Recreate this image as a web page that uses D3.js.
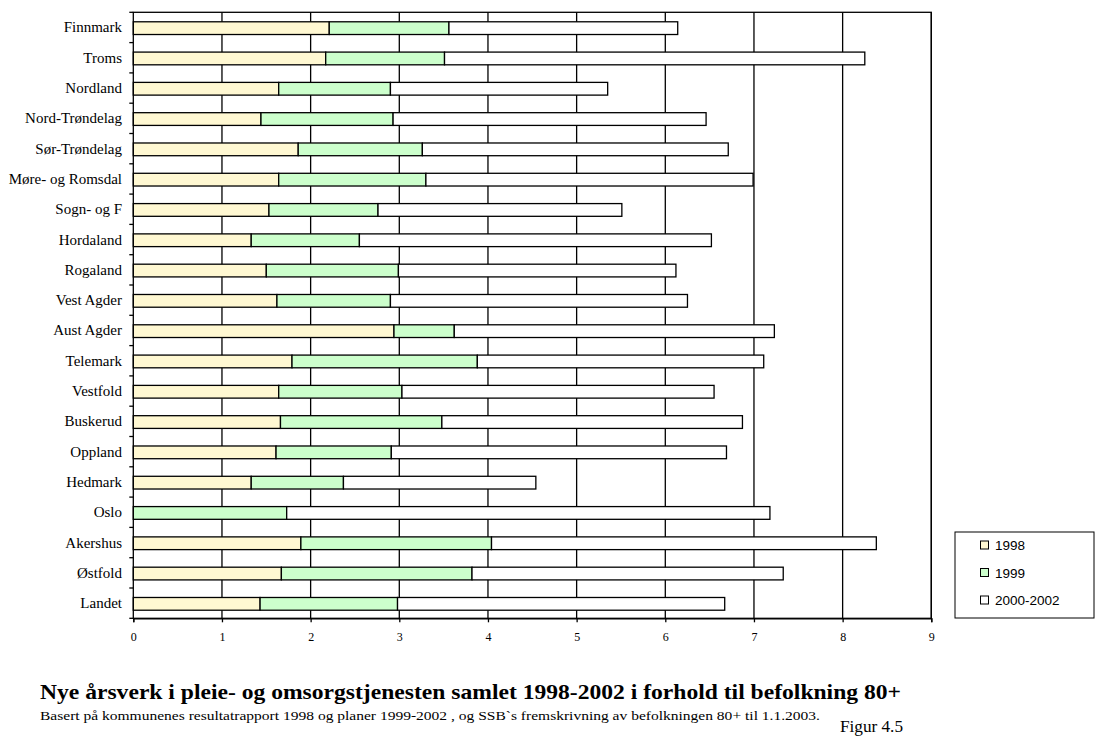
<!DOCTYPE html>
<html><head><meta charset="utf-8">
<script src="https://cdn.jsdelivr.net/npm/d3@7"></script>
<style>body{margin:0;background:#fff}svg{display:block}</style>
</head><body>
<svg id="c" width="1101" height="747"></svg>
<script>
const categories = ["Finnmark","Troms","Nordland","Nord-Trøndelag","Sør-Trøndelag","Møre- og Romsdal","Sogn- og F","Hordaland","Rogaland","Vest Agder","Aust Agder","Telemark","Vestfold","Buskerud","Oppland","Hedmark","Oslo","Akershus","Østfold","Landet"];
const seriesNames = ["1998","1999","2000-2002"];
const v1998 = [2.21,2.17,1.64,1.44,1.86,1.64,1.53,1.33,1.50,1.62,2.94,1.79,1.64,1.66,1.61,1.33,0,1.89,1.67,1.43];
const v1999 = [1.35,1.34,1.26,1.49,1.40,1.66,1.23,1.22,1.49,1.28,0.68,2.09,1.39,1.82,1.30,1.04,1.73,2.15,2.15,1.55];
const v2000 = [2.58,4.74,2.45,3.53,3.45,3.69,2.75,3.97,3.13,3.35,3.61,3.23,3.52,3.39,3.78,2.17,5.45,4.34,3.51,3.69];
const xTicks = [0,1,2,3,4,5,6,7,8,9];
const colors = ["#FFF8D2","#CCFFCC","#FFFFFF"];
const title = "Nye årsverk i pleie- og omsorgstjenesten samlet 1998-2002 i forhold til befolkning 80+";
const subtitle = "Basert på kommunenes resultatrapport 1998 og planer 1999-2002 , og SSB`s fremskrivning av befolkningen 80+ til 1.1.2003.";
const figLabel = "Figur 4.5";

const svg = d3.select("#c");
const L=133.3, R=931.3, T=12.3, B=618.3;
const x = d3.scaleLinear().domain([0,9]).range([L,R]);
const y = d3.scaleBand().domain(categories).range([T,B]).paddingInner(0.58).paddingOuter(0.29);

const rows = categories.map((c,i)=>({cat:c, "1998":v1998[i], "1999":v1999[i], "2000-2002":v2000[i]}));
const stacked = d3.stack().keys(seriesNames)(rows);

// gridlines
svg.append("g").selectAll("line").data(xTicks.slice(1)).join("line")
  .attr("x1",d=>x(d)).attr("x2",d=>x(d)).attr("y1",T).attr("y2",B)
  .attr("stroke","#000").attr("stroke-width",1.3);

// bars
stacked.forEach((s,k)=>{
  svg.append("g").selectAll("rect").data(s).join("rect")
    .attr("x",d=>x(d[0])).attr("width",d=>x(d[1])-x(d[0]))
    .attr("y",d=>y(d.data.cat)+0.7).attr("height",y.bandwidth())
    .attr("fill",colors[k]).attr("stroke","#000").attr("stroke-width",1.3)
    .style("display",d=>(d[1]-d[0])>0?null:"none");
});

// frame
svg.append("rect").attr("x",L).attr("y",T).attr("width",R-L).attr("height",B-T)
  .attr("fill","none").attr("stroke","#000").attr("stroke-width",1.3);

// x axis
const xa = svg.append("g").attr("transform",`translate(0,${B})`)
  .call(d3.axisBottom(x).tickValues(xTicks).tickSize(4).tickPadding(10).tickFormat(d3.format("d")));
xa.select(".domain").attr("stroke","#000").attr("stroke-width",1.3);
xa.selectAll(".tick line").attr("stroke","#000").attr("stroke-width",1.3);
xa.selectAll("text").attr("font-family","Liberation Serif").attr("font-size",12).attr("fill","#000");

// y axis ticks at band boundaries
const step = y.step();
const bounds = d3.range(categories.length+1).map(i=>T+i*step);
svg.append("g").selectAll("line").data(bounds).join("line")
  .attr("x1",L-4).attr("x2",L).attr("y1",d=>d).attr("y2",d=>d)
  .attr("stroke","#000").attr("stroke-width",1.3);

// y labels
svg.append("g").selectAll("text").data(categories).join("text")
  .attr("x",122).attr("y",d=>y(d)+y.bandwidth()/2+5)
  .attr("text-anchor","end").attr("font-family","Liberation Serif").attr("font-size",15)
  .text(d=>d);

// legend
const lg = svg.append("g");
lg.append("rect").attr("x",955).attr("y",532).attr("width",139).attr("height",86)
  .attr("fill","#fff").attr("stroke","#000").attr("stroke-width",1);
seriesNames.forEach((n,i)=>{
  const yy = 545 + i*27.5;
  lg.append("rect").attr("x",980.5).attr("y",yy-4).attr("width",8).attr("height",8)
    .attr("fill",colors[i]).attr("stroke","#000").attr("stroke-width",1);
  lg.append("text").attr("x",995).attr("y",yy+5).attr("font-family","Liberation Sans")
    .attr("font-size",13.5).text(n);
});

// titles
svg.append("text").attr("x",40).attr("y",699).attr("font-family","Liberation Serif")
  .attr("font-weight","bold").attr("font-size",21).attr("textLength",861).attr("lengthAdjust","spacingAndGlyphs").text(title);
svg.append("text").attr("x",40).attr("y",720).attr("font-family","Liberation Serif")
  .attr("font-size",13).attr("textLength",780).attr("lengthAdjust","spacingAndGlyphs").text(subtitle);
svg.append("text").attr("x",840).attr("y",732).attr("font-family","Liberation Serif")
  .attr("font-size",16).attr("textLength",63).attr("lengthAdjust","spacingAndGlyphs").text(figLabel);
</script>
</body></html>
